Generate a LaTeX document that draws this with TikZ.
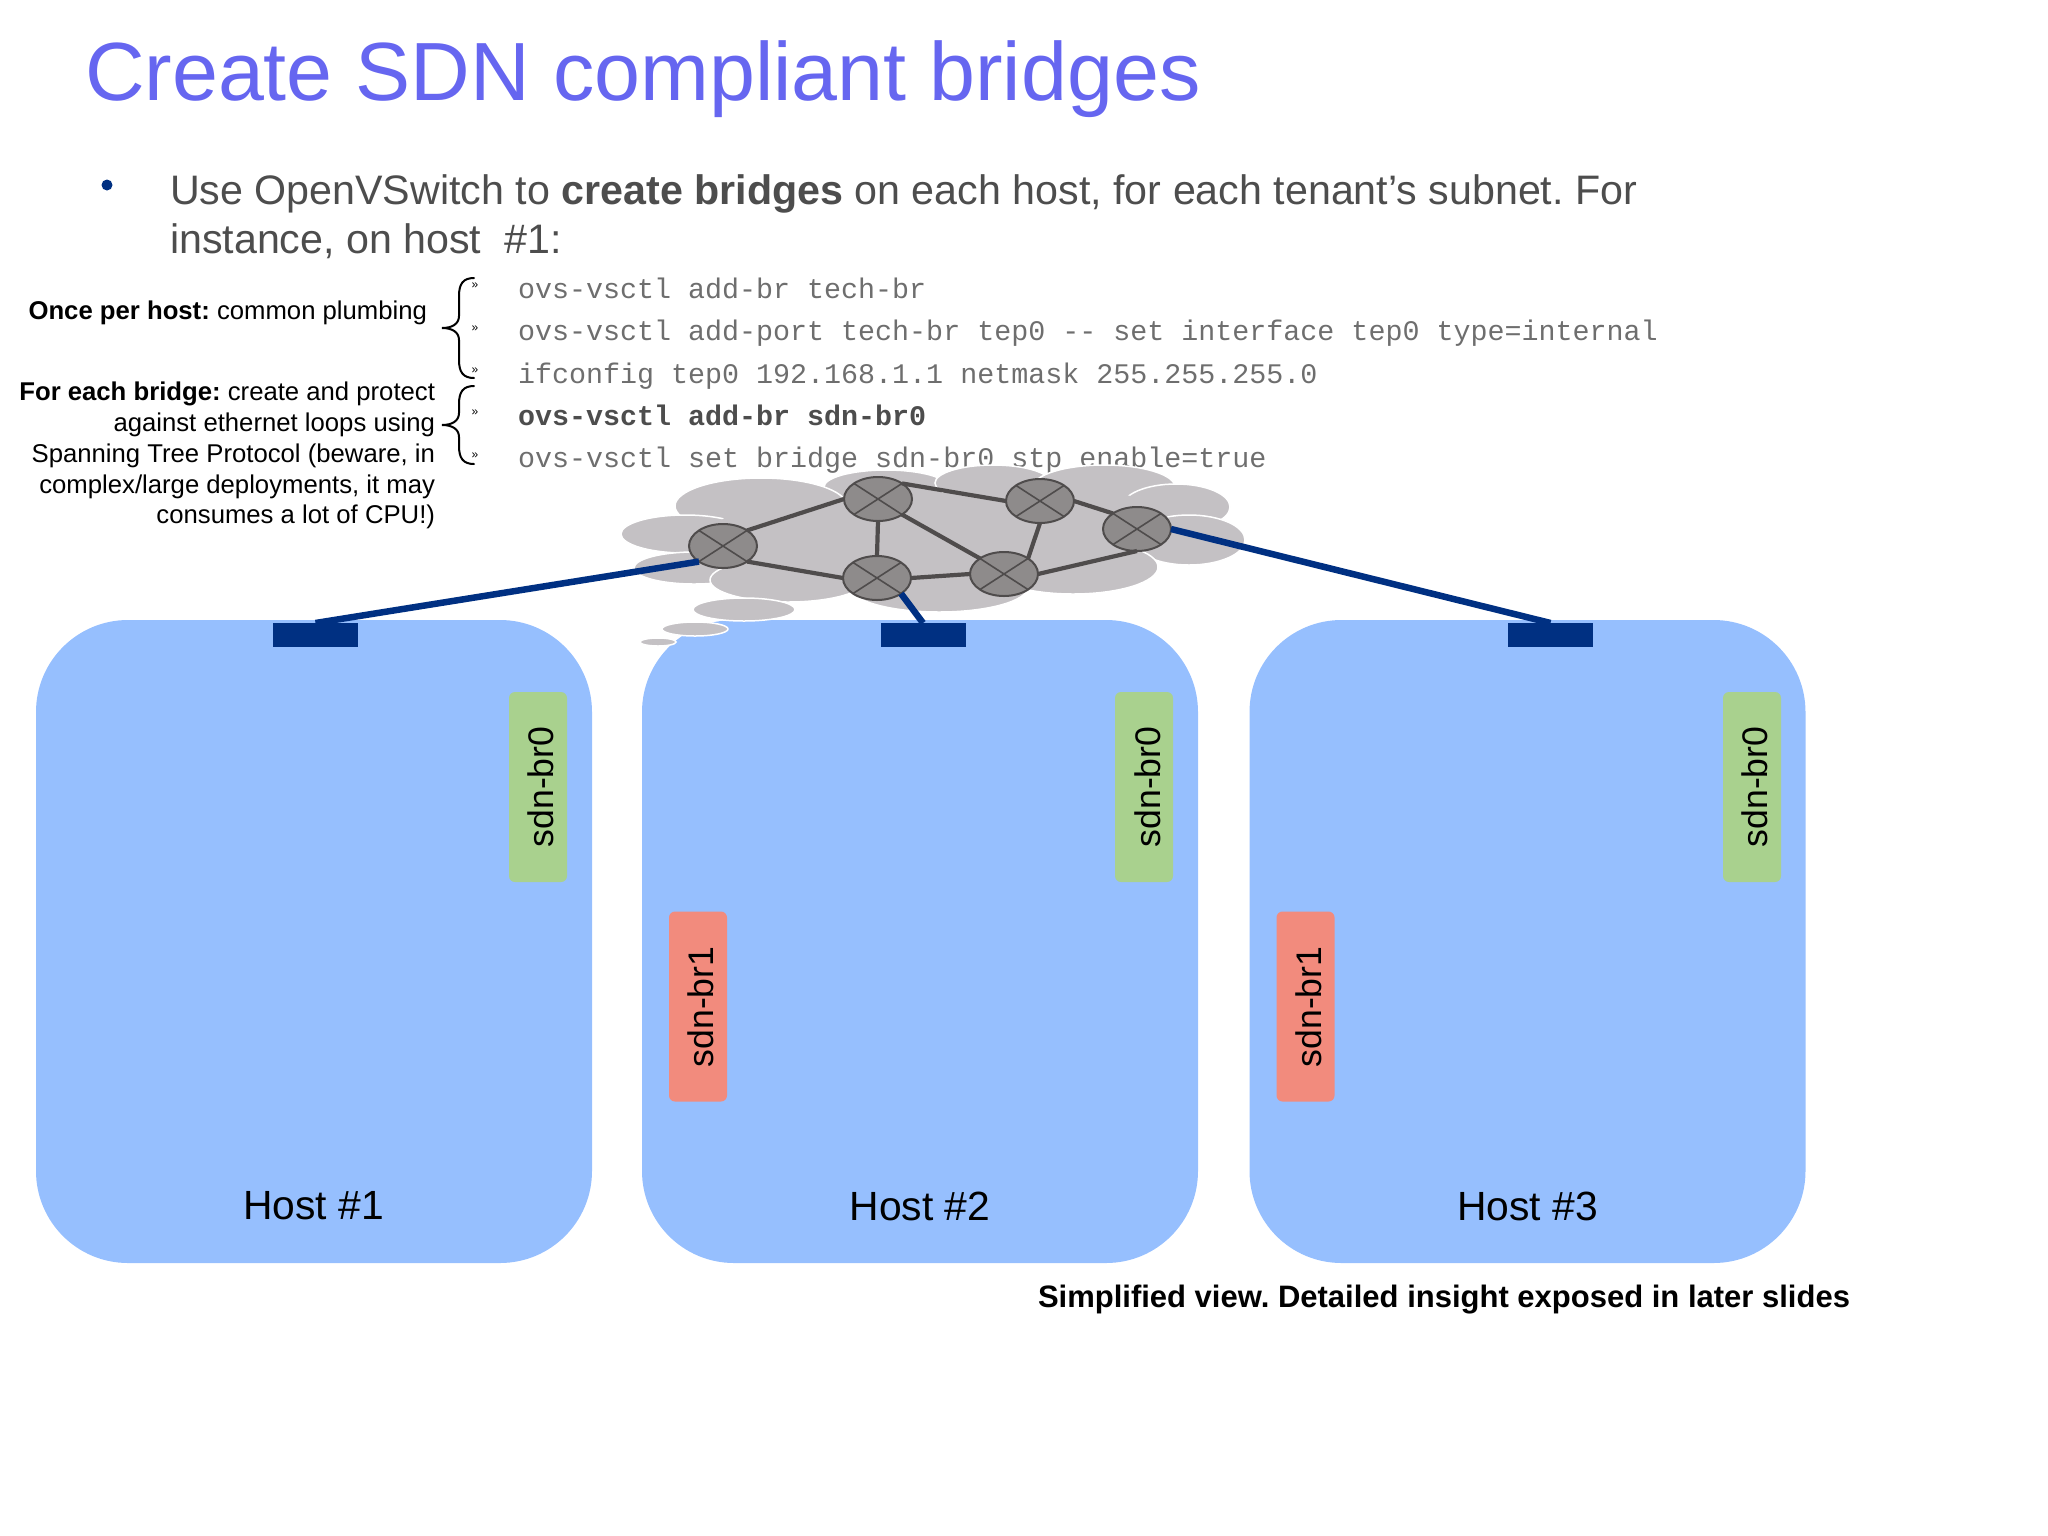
\documentclass[tikz,border=0pt]{standalone}
\usepackage{fontspec}
\setmainfont{Liberation Sans}
\setmonofont{Liberation Mono}
\usetikzlibrary{arrows,shapes.geometric}
\definecolor{titleblue}{HTML}{6666F0}
\definecolor{hostblue}{HTML}{96BFFE}
\definecolor{portblue}{HTML}{003082}
\definecolor{brgreen}{HTML}{A9D18E}
\definecolor{brred}{HTML}{F28B7D}
\definecolor{cloudgrey}{HTML}{C4C1C4}
\definecolor{switchgrey}{HTML}{8E8B8B}
\definecolor{linkgrey}{HTML}{4F4C4C}
\definecolor{bodygrey}{HTML}{4D4D4D}
\definecolor{codegrey}{HTML}{6E6E6E}
\newcommand{\fs}[1]{\fontsize{#1}{#1}\selectfont\frenchspacing}
\newcommand{\sidebrace}[3]{\draw[curly] (474,#1) .. controls (463,#1) and (459,#1+6) .. (459,#1+18) -- (459,#2-12)
  .. controls (459,#2-4) and (452,#2) .. (442,#2) .. controls (452,#2) and (459,#2+4) .. (459,#2+12)
  -- (459,#3-18) .. controls (459,#3-6) and (463,#3) .. (474,#3);}
\begin{document}
\begin{tikzpicture}[x=1pt,y=-1pt,inner sep=0pt,outer sep=0pt]
  \tikzstyle{host}=[fill=hostblue,rounded corners=92pt,minimum width=556pt,minimum height=643pt]
  \tikzstyle{hostlabel}=[font=\fs{40.8},text=black]
  \tikzstyle{port}=[fill=portblue,minimum width=85pt,minimum height=24pt]
  \tikzstyle{bridge}=[rounded corners=6pt,minimum width=58pt,minimum height=190pt]
  \tikzstyle{brlabel}=[font=\fs{35.6},text=black,rotate=90]
  \tikzstyle{body}=[font=\fs{41.2},text=bodygrey,anchor=base west]
  \tikzstyle{code}=[font=\fs{28.35}\ttfamily,text=codegrey,anchor=base west]
  \tikzstyle{chevron}=[font=\fs{12},text=black,anchor=center]
  \tikzstyle{side}=[font=\fs{25.7},text=black,anchor=base east]
  \tikzstyle{lobe}=[fill=cloudgrey,draw=white,line width=1.5pt]
  \tikzstyle{filler}=[fill=cloudgrey,draw=none]
  \tikzstyle{switchnode}=[ellipse,fill=switchgrey,draw=linkgrey,line width=2pt,
    minimum width=68pt,minimum height=44pt,
    path picture={\draw[linkgrey,line width=1.6pt]
      (path picture bounding box.north west) -- (path picture bounding box.south east)
      (path picture bounding box.north east) -- (path picture bounding box.south west);}]
  \tikzstyle{link}=[linkgrey,line width=4.2pt]
  \tikzstyle{uplink}=[portblue,line width=6.5pt]
  \tikzstyle{curly}=[draw=black,line width=2pt,line cap=round]

  \useasboundingbox (0,0) rectangle (2048,1535);

  % heading and bullet
  \node[font=\fs{82.6},text=titleblue,anchor=base west] (title) at (85,100) {Create SDN compliant bridges};
  \node[circle,fill=portblue,minimum size=11pt] (bullet) at (107,185) {};
  \node[body] (line1) at (170,204) {Use OpenVSwitch to \textbf{create bridges} on each host, for each tenant’s subnet. For};
  \node[body] (line2) at (170,253) {instance, on host \ \#1:};

  % commands
  \node[code] (cmd1) at (518,298) {ovs-vsctl add-br tech-br};
  \node[code] (cmd2) at (518,340) {ovs-vsctl add-port tech-br tep0 -- set interface tep0 type=internal};
  \node[code] (cmd3) at (518,383) {ifconfig tep0 192.168.1.1 netmask 255.255.255.0};
  \node[code,text=bodygrey] (cmd4) at (518,425) {\textbf{ovs-vsctl add-br sdn-br0}};
  \node[code] (cmd5) at (518,467) {ovs-vsctl set bridge sdn-br0 stp enable=true};
  \node[chevron] (mark1) at (475,286) {»};
  \node[chevron] (mark2) at (475,329) {»};
  \node[chevron] (mark3) at (475,371) {»};
  \node[chevron] (mark4) at (475,413) {»};
  \node[chevron] (mark5) at (475,456) {»};

  % side notes with their braces
  \node[side] (once) at (427,319) {\textbf{Once per host:} common plumbing};
  \node[side] (each1) at (435,400) {\textbf{For each bridge:} create and protect};
  \node[side] (each2) at (435,431) {against ethernet loops using};
  \node[side] (each3) at (435,462) {Spanning Tree Protocol (beware, in};
  \node[side] (each4) at (435,493) {complex/large deployments, it may};
  \node[side] (each5) at (435,523) {consumes a lot of CPU!)};
  \sidebrace{278}{328}{378}
  \sidebrace{386}{425}{464}

  % hosts
  \node[host] (host1) at (314,941.5) {};
  \node[host] (host2) at (920,941.5) {};
  \node[host] (host3) at (1527.5,941.5) {};
  \node[hostlabel] (name1) at (313.5,1206) {Host \#1};
  \node[hostlabel] (name2) at (920,1206) {Host \#2};
  \node[hostlabel] (name3) at (1527.5,1206) {Host \#3};
  \node[port] (port1) at (315.5,635) {};
  \node[port] (port2) at (923,635) {};
  \node[port] (port3) at (1550.5,635) {};
  \node[bridge,fill=brgreen] (br01) at (538,787) {};
  \node[bridge,fill=brgreen] (br02) at (1144,787) {};
  \node[bridge,fill=brgreen] (br03) at (1752,787) {};
  \node[bridge,fill=brred] (br12) at (698,1006.5) {};
  \node[bridge,fill=brred] (br13) at (1305.5,1006.5) {};
  \node[brlabel] at (541,787) {sdn-br0};
  \node[brlabel] at (1148,787) {sdn-br0};
  \node[brlabel] at (1755,787) {sdn-br0};
  \node[brlabel] at (701,1007) {sdn-br1};
  \node[brlabel] at (1309,1007) {sdn-br1};

  % cloud
  \foreach \cx/\cy/\rx/\ry in {886/487/62/17,761/506/86/28,685/534/64/19,694/568/60/16,788/580/78/22,
      939/587/89/25,993/483/58/18,1104/487/71/22,1176/507/54/23,1189/540/56/25,1073/567/85/27}
    \draw[lobe] (\cx,\cy) ellipse [x radius=\rx,y radius=\ry];
  \foreach \cx/\cy/\rx/\ry in {800/535/85/38,950/535/130/42,1080/525/90/35}
    \fill[filler] (\cx,\cy) ellipse [x radius=\rx,y radius=\ry];
  \draw[lobe] (744,609.5) ellipse [x radius=51,y radius=11.5];
  \draw[lobe] (695,629) ellipse [x radius=33,y radius=7];
  \draw[lobe] (658,642) ellipse [x radius=18,y radius=4];

  % switches
  \node[switchnode] (A) at (723,546) {};
  \node[switchnode] (B) at (878,499) {};
  \node[switchnode] (C) at (1040,501) {};
  \node[switchnode] (D) at (1137,529) {};
  \node[switchnode] (E) at (877,578) {};
  \node[switchnode] (F) at (1004,574) {};

  \path[link] (A.north east) edge (B.west)
        (A.south east) edge (E.west)
        (B.south) edge (E.north)
        (B.south east) edge (F.north west)
        (B.north east) edge (C.west)
        (C.south) edge (F.north east)
        (C.east) edge (D.north west)
        (E.east) edge (F.west)
        (F.east) edge (D.south);
  \path[uplink] (A.south west) edge (port1.north)
        (E.south east) edge (port2.north)
        (D.east) edge (port3.north);

  \node[font=\fs{31}\bfseries,text=black,anchor=base west] (note) at (1038,1307) {Simplified view. Detailed insight exposed in later slides};
\end{tikzpicture}
\end{document}
